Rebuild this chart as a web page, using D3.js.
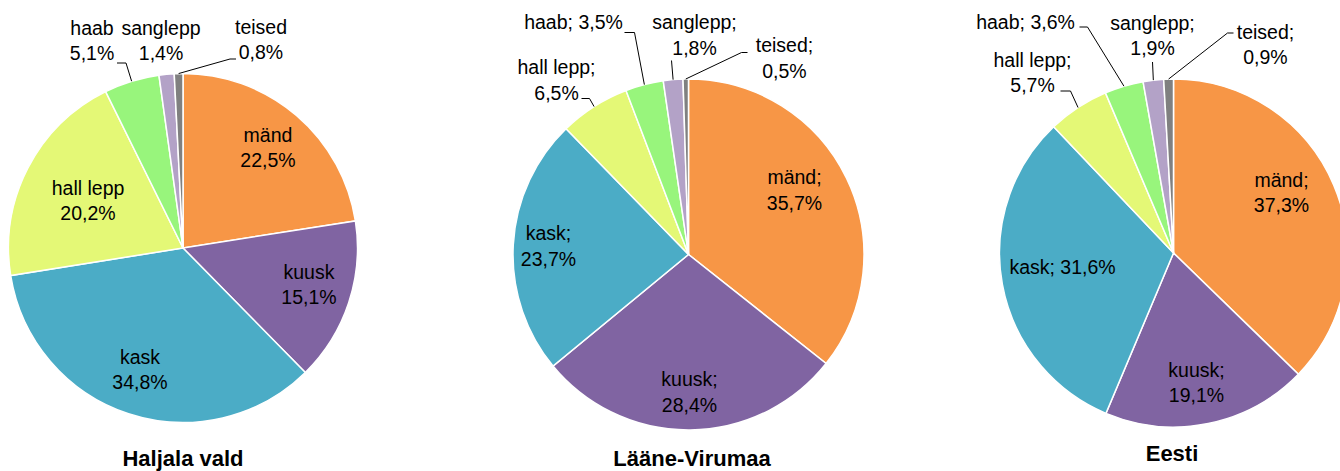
<!DOCTYPE html>
<html>
<head>
<meta charset="utf-8">
<script src="https://cdn.jsdelivr.net/npm/d3@7"></script>
<style>
  body { margin: 0; background: #fff; }
  text { font-family: "Liberation Sans", Arial, sans-serif; fill: #000; }
  .lbl { font-size: 19.5px; }
  .title { font-size: 22px; font-weight: bold; }
</style>
</head>
<body>
<div id="chart"></div>
<script>
// Puuliikide osakaal (%)
// ======================
var species = ["mänd", "kuusk", "kask", "hall lepp", "haab", "sanglepp", "teised"];
var regions = ["Haljala vald", "Lääne-Virumaa", "Eesti"];
var haljala = [22.5, 15.1, 34.8, 20.2, 5.1, 1.4, 0.8];
var laaneVirumaa = [35.7, 28.4, 23.7, 6.5, 3.5, 1.8, 0.5];
var eesti = [37.3, 19.1, 31.6, 5.7, 3.6, 1.9, 0.9];
var colors = ["#F79646", "#8064A2", "#4BACC6", "#E4F876", "#98F57C", "#B3A2C7", "#808080"];

var width = 1340;
var height = 471;

// layout of each pie: centre, radius, title, label anchors (relative to centre)
// labels: [dx, dy, oneLine], leaders: elbow points relative to centre (null = none)
var layout = [
  {
    values: haljala, sep: "", cx: 183, cy: 248, r: 174.5, titleX: 183, titleY: 466,
    labels: [[85, -113], [126, 24], [-43, 109], [-95, -60], [-91, -220], [-22, -220], [78, -221]],
    leaders: [null, null, null, null, [[-66, -185], [-57, -185]], null, [[53, -189], [47, -189]]]
  },
  {
    values: laaneVirumaa, sep: ";", cx: 688.5, cy: 254.5, r: 175.5, titleX: 692, titleY: 466,
    labels: [[106, -77], [1, 125], [-140, -21], [-132, -187], [-115, -232, true], [6, -232], [96, -209]],
    leaders: [null, null, null, [[-107, -156], [-99, -156]], [[-64, -222], [-54, -222]],
      [[-17, -194]], [[59, -202], [53, -202]]]
  },
  {
    values: eesti, sep: ";", cx: 1173.5, cy: 253, r: 174, titleX: 1172, titleY: 461,
    labels: [[108, -73], [23, 117], [-111, 14, true], [-141, -193], [-148, -231, true], [-21, -230], [92, -221]],
    leaders: [null, null, null, [[-113, -162], [-103, -162]], [[-94, -226], [-86, -226]],
      [[-21, -191]], [[60, -220], [54, -220]]]
  }
];

var svg = d3.select("#chart")
  .append("svg")
  .attr("width", width)
  .attr("height", height);

var pie = d3.pie().sort(null).value(function(d) { return d; });

function fmt(v) {
  return String(v.toFixed(1)).replace(".", ",") + "%";
}

layout.forEach(function(p, i) {
  var g = svg.append("g").attr("transform", "translate(" + p.cx + "," + p.cy + ")");
  var arc = d3.arc().innerRadius(0).outerRadius(p.r);
  var edge = d3.arc().innerRadius(p.r).outerRadius(p.r);
  var arcs = pie(p.values);

  g.selectAll("path.slice")
    .data(arcs)
    .enter()
    .append("path")
    .attr("class", "slice")
    .attr("d", arc)
    .attr("fill", function(d, j) { return colors[j]; })
    .attr("stroke", "#fff")
    .attr("stroke-width", 1.5);

  // leader lines from the label to the slice edge
  arcs.forEach(function(d, j) {
    var pts = p.leaders[j];
    if (!pts) return;
    var end = edge.centroid(d);
    g.append("polyline")
      .attr("points", pts.concat([end]).map(function(q) { return q.join(","); }).join(" "))
      .attr("fill", "none")
      .attr("stroke", "#000")
      .attr("stroke-width", 1);
  });

  // labels
  arcs.forEach(function(d, j) {
    var pos = p.labels[j];
    var name = species[j] + p.sep;
    var val = fmt(d.data);
    var t = g.append("text")
      .attr("class", "lbl")
      .attr("text-anchor", "middle")
      .attr("x", pos[0])
      .attr("y", pos[1])
      .attr("dy", "0.35em");
    if (pos[2]) {
      t.text(name + " " + val);
    } else {
      t.append("tspan").attr("x", pos[0]).text(name);
      t.append("tspan").attr("x", pos[0]).attr("dy", 25.5).text(val);
    }
  });

  svg.append("text")
    .attr("class", "title")
    .attr("text-anchor", "middle")
    .attr("x", p.titleX)
    .attr("y", p.titleY)
    .text(regions[i]);
});
</script>
</body>
</html>
